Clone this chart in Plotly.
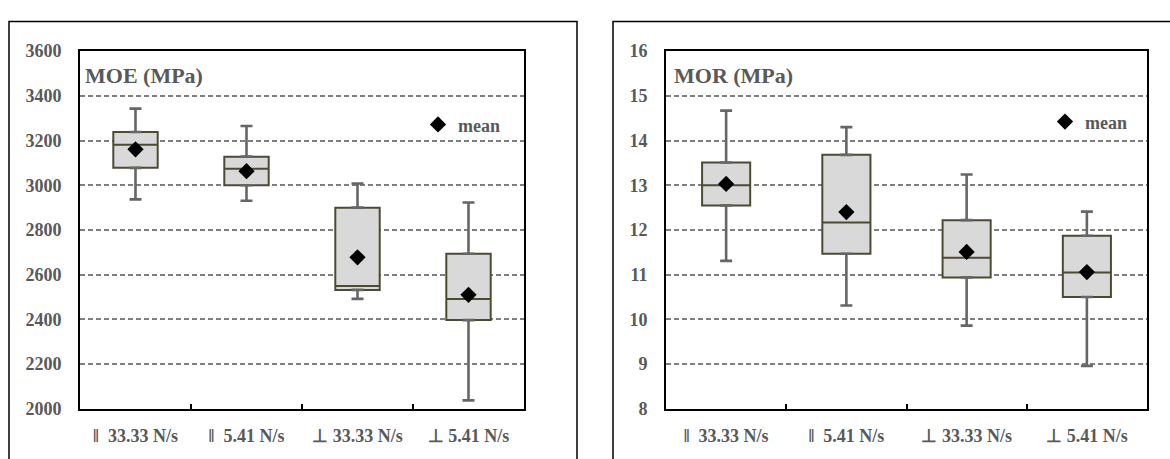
import plotly.graph_objects as go
from plotly.subplots import make_subplots

NB = "\u00a0"
categories = ["‖" + NB + NB + "33.33 N/s", "‖" + NB + NB + "5.41 N/s",
              "⊥" + NB + "33.33 N/s", "⊥" + NB + "5.41 N/s"]

# MOE (MPa)
moe_lower = [2937, 2931, 2492, 2038]
moe_q1 = [3078, 3000, 2532, 2397]
moe_median = [3181, 3074, 2549, 2491]
moe_q3 = [3238, 3128, 2900, 2694]
moe_upper = [3343, 3265, 3008, 2923]
moe_mean = [3161, 3063, 2678, 2510]

# MOR (MPa)
mor_lower = [11.31, 10.31, 9.86, 8.96]
mor_q1 = [12.55, 11.47, 10.94, 10.50]
mor_median = [13.00, 12.17, 11.38, 11.05]
mor_q3 = [13.51, 13.68, 12.22, 11.87]
mor_upper = [14.67, 14.30, 13.24, 12.41]
mor_mean = [13.03, 12.40, 11.51, 11.06]

W, H = 1170, 459


def px(x):
    return x / W


def py(y):
    return 1 - y / H


FONT = "Liberation Serif"
GREY_TXT = "#595959"
BOX_LINE = "#4d4a32"
BOX_FILL = "#d9d9d9"
WHISK = "#666666"

fig = make_subplots(rows=1, cols=2)


def add_panel(col, lower, q1, med, q3, upper, mean, legend_name):
    fig.add_trace(go.Box(
        x=categories, q1=q1, median=med, q3=q3,
        lowerfence=q1, upperfence=q3,
        width=0.4, fillcolor=BOX_FILL,
        line=dict(color=BOX_LINE, width=2),
        whiskerwidth=0, showlegend=False, hoverinfo="skip",
    ), row=1, col=col)
    fig.add_trace(go.Scatter(
        x=categories, y=q3, mode="markers",
        marker=dict(color="rgba(0,0,0,0)", size=1),
        error_y=dict(type="data", symmetric=False,
                     array=[u - t for u, t in zip(upper, q3)],
                     arrayminus=[0] * len(q3),
                     color=WHISK, thickness=2.6, width=6),
        showlegend=False, hoverinfo="skip",
    ), row=1, col=col)
    fig.add_trace(go.Scatter(
        x=categories, y=q1, mode="markers",
        marker=dict(color="rgba(0,0,0,0)", size=1),
        error_y=dict(type="data", symmetric=False,
                     array=[0] * len(q1),
                     arrayminus=[t - l for t, l in zip(q1, lower)],
                     color=WHISK, thickness=2.6, width=6),
        showlegend=False, hoverinfo="skip",
    ), row=1, col=col)
    fig.add_trace(go.Scatter(
        x=categories, y=mean, mode="markers", name="mean",
        marker=dict(symbol="diamond", color="black", size=12.5),
        showlegend=True, legend=legend_name,
    ), row=1, col=col)


add_panel(1, moe_lower, moe_q1, moe_median, moe_q3, moe_upper, moe_mean, "legend")
add_panel(2, mor_lower, mor_q1, mor_median, mor_q3, mor_upper, mor_mean, "legend2")

tickfont = dict(family=FONT, size=18, color=GREY_TXT, weight="bold")
xfont = dict(family=FONT, size=18, color=GREY_TXT, weight="bold")

common_y = dict(
    showline=True, linecolor="black", linewidth=2, mirror=True,
    showgrid=True, gridcolor="#7f7f7f", gridwidth=1.5, griddash="5px,3px",
    zeroline=False, tickfont=tickfont, ticks="", ticklabelstandoff=13,
)
common_x = dict(
    showline=True, linecolor="black", linewidth=2, mirror=True,
    showgrid=False, tickfont=xfont, ticks="inside", ticklen=5,
    tickwidth=1.5, tickcolor="black", tickson="boundaries",
    ticklabelstandoff=10, range=[-0.5, 3.5],
)

legfont = dict(family=FONT, size=18, color=GREY_TXT, weight="bold")

fig.update_layout(
    width=W, height=H, margin=dict(l=0, r=0, t=0, b=0),
    plot_bgcolor="white", paper_bgcolor="white",
    xaxis=dict(domain=[px(80), px(524)], **common_x),
    xaxis2=dict(domain=[px(666), px(1147)], **common_x),
    yaxis=dict(domain=[py(417), py(43)], range=[2000, 3600],
               tickvals=[2000, 2200, 2400, 2600, 2800, 3000, 3200, 3400, 3600], **common_y),
    yaxis2=dict(domain=[py(417), py(43)], range=[8, 16],
                tickvals=[8, 9, 10, 11, 12, 13, 14, 15, 16], **common_y),
    legend=dict(x=px(418), y=py(120), xanchor="left", yanchor="middle",
                bgcolor="rgba(0,0,0,0)", itemwidth=30, font=legfont),
    legend2=dict(x=px(1045), y=py(117), xanchor="left", yanchor="middle",
                 bgcolor="rgba(0,0,0,0)", itemwidth=30, font=legfont),
    annotations=[
        dict(text="MOE (MPa)", xref="paper", yref="paper", x=px(83), y=py(69),
             xanchor="left", yanchor="middle", showarrow=False,
             font=dict(family=FONT, size=22, color=GREY_TXT, weight="bold")),
        dict(text="MOR (MPa)", xref="paper", yref="paper", x=px(672), y=py(69),
             xanchor="left", yanchor="middle", showarrow=False,
             font=dict(family=FONT, size=22, color=GREY_TXT, weight="bold")),
    ],
    shapes=[
        dict(type="rect", xref="paper", yref="paper", x0=px(9), x1=px(577),
             y0=py(480), y1=py(12), line=dict(color="black", width=1.5)),
        dict(type="rect", xref="paper", yref="paper", x0=px(613), x1=px(1190),
             y0=py(480), y1=py(12), line=dict(color="black", width=1.5)),
    ],
)

fig.write_html(
    "out.html",
    config={"displayModeBar": False},
    post_script=(
        "document.body.style.margin='0';"
        "document.body.style.overflow='hidden';"
        "document.documentElement.style.overflow='hidden';"
    ),
)
